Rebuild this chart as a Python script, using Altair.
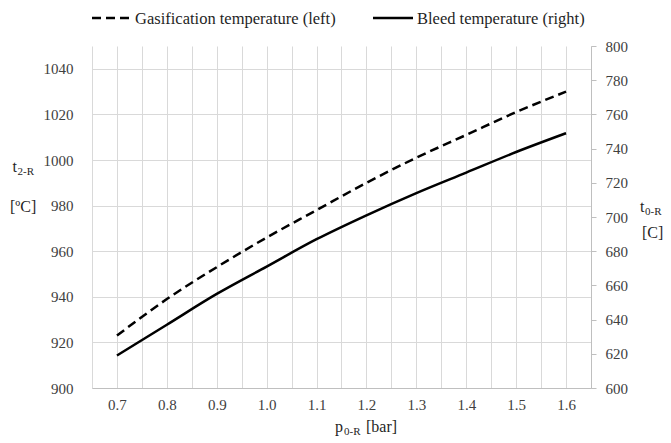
import altair as alt
import pandas as pd

# ---- data ----
pressure = [0.7, 0.8, 0.9, 1.0, 1.1, 1.2, 1.3, 1.4, 1.5, 1.6]
gasification_temp = [923, 939, 953, 966, 978, 990, 1001, 1011, 1021, 1030]
bleed_temp = [619, 637, 655, 671, 687, 701, 714, 726, 738, 749]

x_grid_values = [0.65, 0.7, 0.75, 0.8, 0.85, 0.9, 0.95, 1.0, 1.05, 1.1, 1.15,
                 1.2, 1.25, 1.3, 1.35, 1.4, 1.45, 1.5, 1.55, 1.6, 1.65]
left_ticks = [900, 920, 940, 960, 980, 1000, 1020, 1040]
right_ticks = [600, 620, 640, 660, 680, 700, 720, 740, 760, 780, 800]

legend_labels = ["Gasification temperature (left)", "Bleed temperature (right)"]

FONT = "Liberation Serif"
TICK_COLOR = "#404040"
TEXT_COLOR = "#1f1f1f"
GRID = "#d9d9d9"
AXIS = "#bfbfbf"

df = pd.DataFrame({"p": pressure, "gas": gasification_temp, "bleed": bleed_temp})

x_enc = alt.X(
    "p:Q",
    scale=alt.Scale(domain=[0.65, 1.65], nice=False, zero=False),
    axis=alt.Axis(
        values=x_grid_values,
        labelExpr="round(datum.value*20) % 2 == 0 ? format(datum.value, '.1f') : ''",
        title=None, grid=True, gridColor=GRID, gridWidth=1, ticks=False,
        domainColor=AXIS, domainWidth=1, labelFont=FONT, labelFontSize=15,
        labelColor=TICK_COLOR, labelPadding=9, labelOverlap=False, labelFlush=False,
    ),
)

gas = alt.Chart(df).mark_line(color="black", strokeWidth=2.5, strokeDash=[9, 5],
                              interpolate="monotone").encode(
    x=x_enc,
    y=alt.Y(
        "gas:Q",
        scale=alt.Scale(domain=[900, 1050], nice=False, zero=False),
        axis=alt.Axis(
            orient="left", values=left_ticks, format="d", title=None, grid=True,
            gridColor=GRID, gridWidth=1, ticks=False, domain=False, labelFont=FONT,
            labelFontSize=15, labelColor=TICK_COLOR, labelPadding=19,
        ),
    ),
)

bleed = alt.Chart(df).mark_line(color="black", strokeWidth=2.5,
                                interpolate="monotone").encode(
    x=x_enc,
    y=alt.Y(
        "bleed:Q",
        scale=alt.Scale(domain=[600, 800], nice=False, zero=False),
        axis=alt.Axis(
            orient="right", values=right_ticks, format="d", title=None, grid=False,
            ticks=True, tickSize=5, tickColor=AXIS, domain=True, domainColor=AXIS,
            labelFont=FONT, labelFontSize=15, labelColor=TICK_COLOR, labelPadding=9,
        ),
    ),
)

one = pd.DataFrame({"a": [0]})


def txt(text, x, y, size, color=TEXT_COLOR):
    return alt.Chart(pd.DataFrame({"t": [text]})).mark_text(
        align="left", baseline="alphabetic", font=FONT, fontSize=size, color=color
    ).encode(x=alt.value(x), y=alt.value(y), text="t:N")


# legend
leg_dash = alt.Chart(one).mark_rule(color="black", strokeWidth=2.5, strokeDash=[9, 5]).encode(
    x=alt.value(0), x2=alt.value(40), y=alt.value(-28)
)
leg_solid = alt.Chart(one).mark_rule(color="black", strokeWidth=2.5).encode(
    x=alt.value(281), x2=alt.value(321), y=alt.value(-28)
)
leg_t1 = txt(legend_labels[0], 43, -22, 16.5)
leg_t2 = txt(legend_labels[1], 325, -22, 16.5)

# axis titles with subscripts
lt1 = txt("t", -79.5, 126, 16)
lt2 = txt("2-R", -74.5, 129, 11)
lt3 = txt("[ºC]", -82, 166, 16)

rt1 = txt("t", 548, 166, 16)
rt2 = txt("0-R", 553, 169, 11)
rt3 = txt("[C]", 550, 192, 16)

xt1 = txt("p", 243, 386, 16)
xt2 = txt("0-R", 252, 389, 11)
xt3 = txt("[bar]", 274, 386, 16)

chart = (
    alt.layer(gas, bleed, leg_dash, leg_solid, leg_t1, leg_t2,
              lt1, lt2, lt3, rt1, rt2, rt3, xt1, xt2, xt3)
    .resolve_scale(y="independent")
    .properties(
        width=499, height=342, autosize="none",
        padding={"left": 92, "top": 46, "right": 80, "bottom": 55},
        background="white",
    )
    .configure_view(stroke=None)
)

chart.save("out.html", embed_options={"renderer": "svg", "actions": False})
